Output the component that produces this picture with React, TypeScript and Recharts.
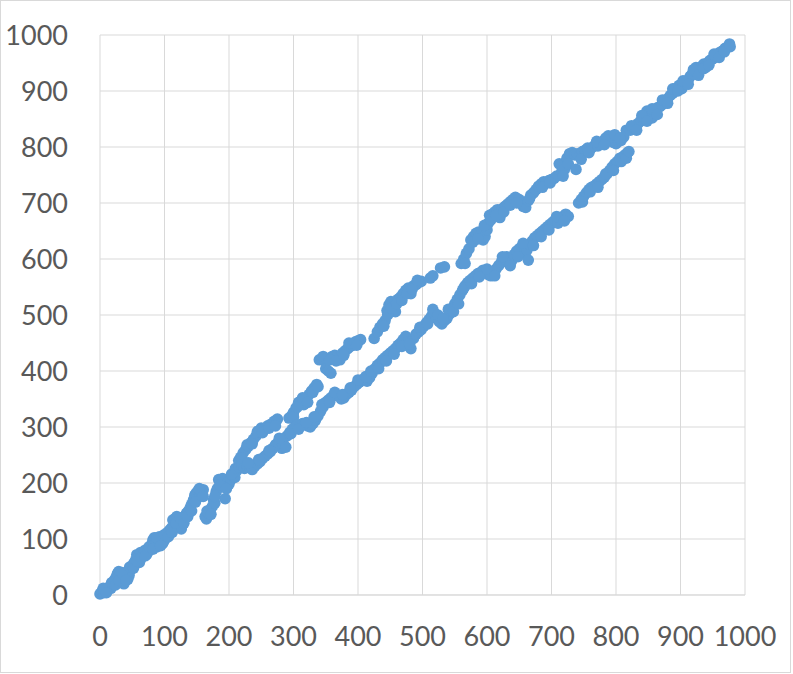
import React from 'react'
import {
  ScatterChart,
  Scatter,
  XAxis,
  YAxis,
  CartesianGrid,
} from 'recharts'

// readings, [x, y]
const startBand: Array<[number, number]> = [
  [0, 2], [3, 6], [6, 4], [8, 10], [11, 8], [14, 14], [17, 12], [20, 20], [22, 26], [25, 32],
  [27, 38], [29, 42], [31, 36], [33, 30], [35, 24], [37, 20], [39, 34], [41, 40], [43, 28], [45, 35],
  [47, 44], [50, 50], [52, 56], [55, 62], [57, 72], [59, 66], [61, 58], [63, 76], [65, 70], [68, 74],
  [70, 80], [72, 72], [75, 78], [77, 84], [80, 90], [82, 98], [84, 102], [86, 94], [88, 86], [90, 100],
  [92, 104], [94, 96], [97, 92], [100, 98], [102, 106], [105, 112], [108, 116], [111, 120], [113, 134], [116, 136],
  [119, 140], [121, 128], [124, 122], [126, 118], [128, 132], [131, 138], [134, 146], [137, 150], [140, 156], [142, 162],
  [145, 170], [147, 178], [149, 182], [152, 186], [155, 176], [157, 184], [160, 188], [163, 140], [165, 136], [168, 146],
  [171, 152], [174, 158], [176, 170], [178, 164], [180, 184], [182, 190], [184, 206], [187, 204], [190, 208], [192, 196],
  [194, 172], [197, 200], [200, 198], [203, 206], [206, 214], [209, 210], [212, 222],
  [5, 12], [10, 4], [18, 22], [24, 18], [30, 26], [34, 40], [40, 26], [46, 50], [52, 48], [58, 60],
  [64, 66], [70, 70], [76, 86], [82, 82], [88, 102], [94, 88], [100, 108], [106, 104], [112, 112], [118, 128],
  [124, 138], [130, 128], [136, 140], [142, 150], [148, 166], [154, 190], [160, 176], [166, 150], [172, 144], [178, 176],
  [186, 196], [196, 190], [204, 216], [210, 226],
]

const upperBranch: Array<[number, number]> = [
  [215, 240], [218, 246], [222, 254], [226, 260], [230, 266], [234, 272], [238, 278], [242, 284], [246, 292], [250, 298],
  [255, 296], [260, 302], [265, 305], [270, 310], [275, 314], [293, 316], [297, 320], [300, 326], [304, 334], [308, 344],
  [312, 346], [316, 340], [320, 350], [324, 358], [328, 364], [332, 370], [336, 376], [340, 420], [344, 422], [348, 418],
  [350, 404], [354, 400], [358, 396], [360, 426], [364, 428], [368, 424], [372, 420], [376, 432], [380, 436], [384, 440],
  [388, 444], [392, 446], [396, 452], [400, 454], [404, 456], [425, 458], [430, 470], [434, 478], [438, 484], [442, 490],
  [445, 508], [448, 518], [451, 524], [455, 514], [458, 506], [462, 528], [466, 532], [470, 538], [474, 544], [478, 548],
  [482, 538], [486, 552], [490, 554], [494, 558], [498, 560], [512, 566], [516, 570], [528, 584], [534, 586], [560, 592],
  [564, 600], [568, 610], [572, 618], [575, 634], [579, 640], [583, 646], [587, 648], [591, 644], [594, 634], [597, 640],
  [600, 652], [602, 664], [604, 678], [608, 680], [612, 684], [616, 688], [620, 674], [624, 690], [628, 694], [632, 698],
  [636, 702], [640, 706], [644, 710], [650, 706], [656, 694], [660, 692], [664, 704], [668, 714], [672, 718], [676, 724],
  [680, 730], [684, 734], [688, 738], [692, 736], [696, 740], [700, 742], [704, 744], [708, 748], [712, 770], [716, 756],
  [720, 760], [724, 780], [728, 788], [732, 790], [736, 786], [740, 788], [744, 784], [748, 792], [752, 794], [756, 798],
  [760, 796], [764, 800], [768, 804], [772, 802], [776, 806], [780, 810], [784, 816], [788, 820], [792, 814], [796, 808],
  [800, 806], [804, 810], [808, 812], [812, 818],
  [220, 244], [228, 268], [236, 270], [244, 292], [252, 290], [262, 298], [272, 302], [282, 262], [300, 318], [306, 336],
  [314, 352], [322, 344], [330, 362], [338, 372], [346, 426], [356, 420], [366, 418], [378, 428], [386, 450], [398, 446],
  [440, 480], [446, 500], [452, 512], [460, 520], [468, 526], [476, 538], [484, 546], [492, 562], [566, 592], [578, 630],
  [586, 636], [596, 660], [606, 670], [614, 678], [626, 684], [636, 696], [646, 700], [666, 708], [686, 728], [698, 736],
  [718, 748], [726, 770], [738, 760], [746, 778], [758, 790], [770, 810], [782, 804], [798, 822], [806, 816], [816, 830],
]

const lowerBranch: Array<[number, number]> = [
  [216, 228], [220, 232], [224, 226], [228, 230], [232, 228], [236, 224], [240, 230], [244, 234], [248, 238], [252, 244],
  [256, 248], [260, 252], [264, 256], [268, 262], [272, 268], [276, 272], [280, 276], [284, 270], [288, 264], [290, 284],
  [294, 290], [298, 296], [302, 300], [306, 304], [310, 302], [314, 306], [318, 304], [322, 302], [326, 300], [330, 306],
  [334, 312], [338, 320], [342, 328], [346, 336], [350, 344], [354, 348], [358, 352], [362, 356], [366, 358], [370, 356],
  [374, 350], [378, 352], [382, 358], [386, 362], [390, 366], [394, 372], [398, 376], [402, 380], [406, 384], [410, 386],
  [414, 382], [418, 388], [422, 396], [426, 404], [430, 410], [434, 414], [438, 420], [442, 424], [446, 428], [450, 432],
  [454, 436], [458, 440], [462, 446], [466, 450], [470, 456], [474, 462], [478, 452], [482, 440], [486, 458], [490, 466],
  [494, 470], [498, 474], [502, 480], [506, 486], [510, 492], [514, 498], [518, 504], [522, 494], [526, 488], [530, 484],
  [534, 490], [538, 494], [542, 502], [546, 512], [550, 520], [554, 528], [558, 536], [562, 544], [566, 552], [570, 558],
  [574, 562], [578, 566], [582, 570], [586, 574], [590, 576], [594, 580], [598, 578], [602, 572], [606, 570], [610, 576],
  [614, 582], [618, 588], [622, 594], [626, 600], [630, 604], [634, 600], [638, 596], [642, 608], [646, 614], [650, 618],
  [654, 622], [658, 610], [662, 616], [666, 626], [670, 632], [674, 638], [678, 642], [682, 646], [686, 650], [690, 654],
  [694, 658], [698, 662], [702, 666], [706, 670], [710, 664], [714, 672], [718, 676], [722, 680], [726, 676], [742, 700],
  [746, 706], [750, 712], [754, 718], [758, 724], [762, 728], [766, 730], [770, 734], [774, 738], [778, 742], [782, 746],
  [786, 752], [790, 758], [794, 764], [798, 770], [802, 774], [806, 780], [810, 782], [814, 786], [818, 790],
  [230, 236], [246, 242], [262, 258], [278, 280], [296, 288], [308, 296], [320, 308], [332, 318], [344, 340], [356, 344],
  [364, 362], [376, 358], [388, 370], [400, 384], [412, 390], [420, 400], [432, 404], [444, 418], [456, 430], [468, 444],
  [480, 448], [496, 478], [508, 484], [516, 510], [524, 500], [532, 494], [540, 510], [548, 506], [556, 520], [564, 548],
  [576, 556], [588, 568], [600, 582], [612, 570], [624, 604], [636, 588], [648, 604], [656, 628], [664, 598], [672, 624],
  [684, 640], [696, 652], [708, 676], [720, 668], [748, 702], [760, 720], [772, 728], [784, 752], [796, 758], [808, 774],
  [816, 780],
]

const endBand: Array<[number, number]> = [
  [820, 792], [822, 830], [826, 834], [830, 838], [834, 842], [838, 846], [842, 850], [846, 856], [848, 864], [852, 860],
  [856, 852], [860, 866], [864, 870], [868, 872], [872, 876], [876, 882], [880, 886], [884, 892], [888, 896], [892, 900],
  [895, 906], [898, 910], [902, 904], [905, 912], [908, 916], [912, 920], [915, 926], [918, 930], [921, 936], [924, 942],
  [927, 934], [930, 940], [933, 944], [936, 948], [939, 942], [942, 950], [945, 954], [948, 956], [951, 958], [954, 962],
  [957, 964], [960, 968], [963, 970], [966, 972], [969, 976], [972, 978], [975, 980], [977, 979],
  [824, 838], [832, 830], [840, 856], [848, 846], [856, 868], [864, 858], [872, 884], [880, 878], [888, 904], [896, 900],
  [904, 918], [912, 912], [920, 938], [928, 928], [936, 940], [944, 946], [952, 966], [960, 960], [968, 970], [976, 984],
]

const ticks = [0, 100, 200, 300, 400, 500, 600, 700, 800, 900, 1000]

const data = [...startBand, ...upperBranch, ...lowerBranch, ...endBand].map(([x, y]) => ({ x, y }))

const tickStyle = { fill: '#595959', fontSize: 27, fontFamily: 'Lato, sans-serif' }

const Dot = (props: any) => <circle cx={props.cx} cy={props.cy} r={5.8} fill="#5b9bd5" />

export default function App() {
  return (
    <div style={{ position: 'absolute', left: 0, top: 0, width: 793, height: 674, background: '#fff' }}>
      <div
        style={{
          position: 'absolute',
          left: 0,
          top: 0,
          width: 789,
          height: 671,
          border: '1px solid #d9d9d9',
        }}
      />
      <ScatterChart
        width={793}
        height={674}
        margin={{ top: 35, right: 48, left: 0, bottom: 0 }}
      >
        <CartesianGrid stroke="#d9d9d9" />
        <XAxis
          type="number"
          dataKey="x"
          domain={[0, 1000]}
          ticks={ticks}
          height={79}
          tick={tickStyle}
          tickLine={false}
          tickSize={0}
          tickMargin={32}
          axisLine={{ stroke: '#d9d9d9' }}
          interval={0}
        />
        <YAxis
          type="number"
          dataKey="y"
          domain={[0, 1000]}
          ticks={ticks}
          width={100}
          tick={tickStyle}
          tickLine={false}
          tickSize={0}
          tickMargin={32}
          axisLine={false}
          interval={0}
        />
        <Scatter data={data} shape={Dot} isAnimationActive={false} />
      </ScatterChart>
    </div>
  )
}
